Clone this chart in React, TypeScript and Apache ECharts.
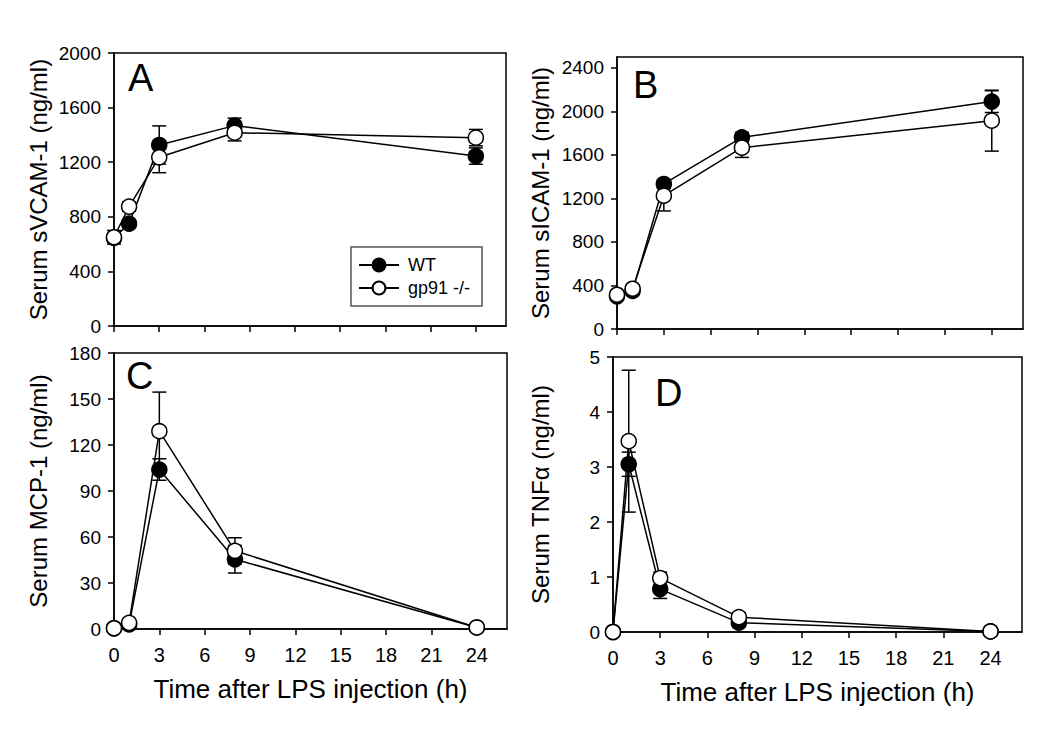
import React, { useEffect, useRef } from "react";
import * as echarts from "echarts";

const FONT = "'Liberation Sans', Arial, Helvetica, sans-serif";

const times = [0, 1, 3, 8, 24];
const xTicks = [0, 3, 6, 9, 12, 15, 18, 21, 24];
const xTitle = "Time after LPS injection (h)";

// Panel A: sVCAM-1
const vcamWT = [645, 750, 1326, 1468, 1245];
const vcamWTErr = [30, 20, 140, 55, 60];
const vcamKO = [650, 875, 1236, 1416, 1380];
const vcamKOErr = [50, 35, 113, 60, 60];
const vcamTicks = [0, 400, 800, 1200, 1600, 2000];

// Panel B: sICAM-1
const icamWT = [300, 350, 1333, 1762, 2090];
const icamWTErr = [20, 20, 40, 45, 100];
const icamKO = [315, 370, 1225, 1667, 1915];
const icamKOErr = [20, 20, 140, 90, 280];
const icamTicks = [0, 400, 800, 1200, 1600, 2000, 2400];

// Panel C: MCP-1
const mcpWT = [0.5, 3, 104, 45.5, 1];
const mcpWTErr = [0.3, 2, 7, 9, 0.5];
const mcpKO = [0.5, 4, 129, 51, 1];
const mcpKOErr = [0.3, 1.5, 25.5, 8.5, 0.5];
const mcpTicks = [0, 30, 60, 90, 120, 150, 180];

// Panel D: TNFα
const tnfWT = [0, 3.05, 0.78, 0.17, 0.01];
const tnfWTErr = [0, 0.22, 0.17, 0.05, 0];
const tnfKO = [0, 3.47, 0.98, 0.27, 0.01];
const tnfKOErr = [0, 1.29, 0.11, 0.08, 0];
const tnfTicks = [0, 1, 2, 3, 4, 5];

const panels = [
  { letter: "A", title: "Serum sVCAM-1 (ng/ml)", wt: vcamWT, wtErr: vcamWTErr, ko: vcamKO, koErr: vcamKOErr, yTicks: vcamTicks, yMax: 2000, grid: { left: 114, top: 53, width: 392, height: 273 }, bottom: false, letterPos: [128, 59], nameGap: 64 },
  { letter: "B", title: "Serum sICAM-1 (ng/ml)", wt: icamWT, wtErr: icamWTErr, ko: icamKO, koErr: icamKOErr, yTicks: icamTicks, yMax: 2500, grid: { left: 617, top: 57, width: 406, height: 272 }, bottom: false, letterPos: [633, 66], nameGap: 65 },
  { letter: "C", title: "Serum MCP-1 (ng/ml)", wt: mcpWT, wtErr: mcpWTErr, ko: mcpKO, koErr: mcpKOErr, yTicks: mcpTicks, yMax: 180, grid: { left: 114, top: 353, width: 393, height: 276 }, bottom: true, letterPos: [126, 357], nameGap: 64 },
  { letter: "D", title: "Serum TNF\u03b1 (ng/ml)", wt: tnfWT, wtErr: tnfWTErr, ko: tnfKO, koErr: tnfKOErr, yTicks: tnfTicks, yMax: 5, grid: { left: 613, top: 357, width: 409, height: 275 }, bottom: true, letterPos: [655, 374], nameGap: 61 },
];

function errSeries(idx: number, vals: number[], errs: number[]) {
  return {
    type: "custom",
    xAxisIndex: idx,
    yAxisIndex: idx,
    silent: true,
    z: 1,
    encode: { x: 0, y: [1, 2] },
    data: times.map((t, i) => [t, vals[i] - errs[i], vals[i] + errs[i]]),
    renderItem: (params: any, api: any) => {
      const lo = api.coord([api.value(0), api.value(1)]);
      const hi = api.coord([api.value(0), api.value(2)]);
      const w = 7;
      const style = { stroke: "#000", lineWidth: 1.5 };
      return {
        type: "group",
        children: [
          { type: "line", shape: { x1: lo[0], y1: lo[1], x2: hi[0], y2: hi[1] }, style },
          { type: "line", shape: { x1: lo[0] - w, y1: lo[1], x2: lo[0] + w, y2: lo[1] }, style },
          { type: "line", shape: { x1: hi[0] - w, y1: hi[1], x2: hi[0] + w, y2: hi[1] }, style },
        ],
      };
    },
  };
}

function lineSeries(idx: number, name: string, vals: number[], fill: string) {
  return {
    type: "line",
    name,
    xAxisIndex: idx,
    yAxisIndex: idx,
    data: times.map((t, i) => [t, vals[i]]),
    symbol: "circle",
    symbolSize: 15,
    showSymbol: true,
    clip: false,
    z: 3,
    lineStyle: { color: "#000", width: 1.5 },
    itemStyle: { color: fill, borderColor: "#000", borderWidth: 1.5 },
    emphasis: { disabled: true },
  };
}

export default function App() {
  const ref = useRef<HTMLDivElement>(null);
  useEffect(() => {
    if (!ref.current) return;
    const chart = echarts.init(ref.current, undefined, { renderer: "svg" });
    const axisLine = { show: true, lineStyle: { color: "#000", width: 1.5 } };
    const tick = { length: 6, lineStyle: { color: "#000", width: 1.5 } };
    const option: any = {
      animation: false,
      backgroundColor: "#fff",
      textStyle: { fontFamily: FONT },
      grid: panels.map((p) => ({ ...p.grid, show: true, borderColor: "#000", borderWidth: 1.5, backgroundColor: "transparent" })),
      xAxis: panels.map((p, i) => ({
        type: "value",
        gridIndex: i,
        min: 0,
        max: 26,
        axisLine,
        axisTick: { show: true, ...tick, customValues: xTicks },
        axisLabel: { show: p.bottom, customValues: xTicks, fontSize: 20, color: "#000", margin: 16, fontFamily: FONT, formatter: (v: number) => String(v) },
        splitLine: { show: false },
        name: p.bottom ? xTitle : "",
        nameLocation: "middle",
        nameGap: 47,
        nameTextStyle: { fontSize: 26, color: "#000", fontFamily: FONT },
      })),
      yAxis: panels.map((p, i) => ({
        type: "value",
        gridIndex: i,
        min: 0,
        max: p.yMax,
        axisLine,
        axisTick: { show: true, ...tick, customValues: p.yTicks },
        axisLabel: { customValues: p.yTicks, fontSize: 19, color: "#000", margin: 13, fontFamily: FONT, formatter: (v: number) => String(v) },
        splitLine: { show: false },
        name: p.title,
        nameLocation: "middle",
        nameGap: p.nameGap,
        nameTextStyle: { fontSize: 24, color: "#000", fontFamily: FONT },
      })),
      legend: {
        data: ["WT", "gp91 -/-"],
        orient: "vertical",
        left: 351,
        top: 247,
        padding: [9, 12, 9, 7],
        itemGap: 5,
        itemWidth: 40,
        itemHeight: 16,
        borderColor: "#555",
        borderWidth: 1.5,
        selectedMode: false,
        textStyle: { fontSize: 18, color: "#000", fontFamily: FONT, padding: [0, 0, 0, 4] },
      },
      graphic: panels.map((p) => ({
        type: "text",
        left: p.letterPos[0],
        top: p.letterPos[1],
        style: { text: p.letter, fontSize: 38, fill: "#000", fontFamily: FONT },
      })),
      series: panels.flatMap((p, i) => [
        errSeries(i, p.wt, p.wtErr),
        errSeries(i, p.ko, p.koErr),
        lineSeries(i, "WT", p.wt, "#000"),
        lineSeries(i, "gp91 -/-", p.ko, "#fff"),
      ]),
    };
    chart.setOption(option);
    return () => chart.dispose();
  }, []);
  return <div ref={ref} style={{ position: "absolute", left: 0, top: 0, width: 1050, height: 729 }} />;
}
